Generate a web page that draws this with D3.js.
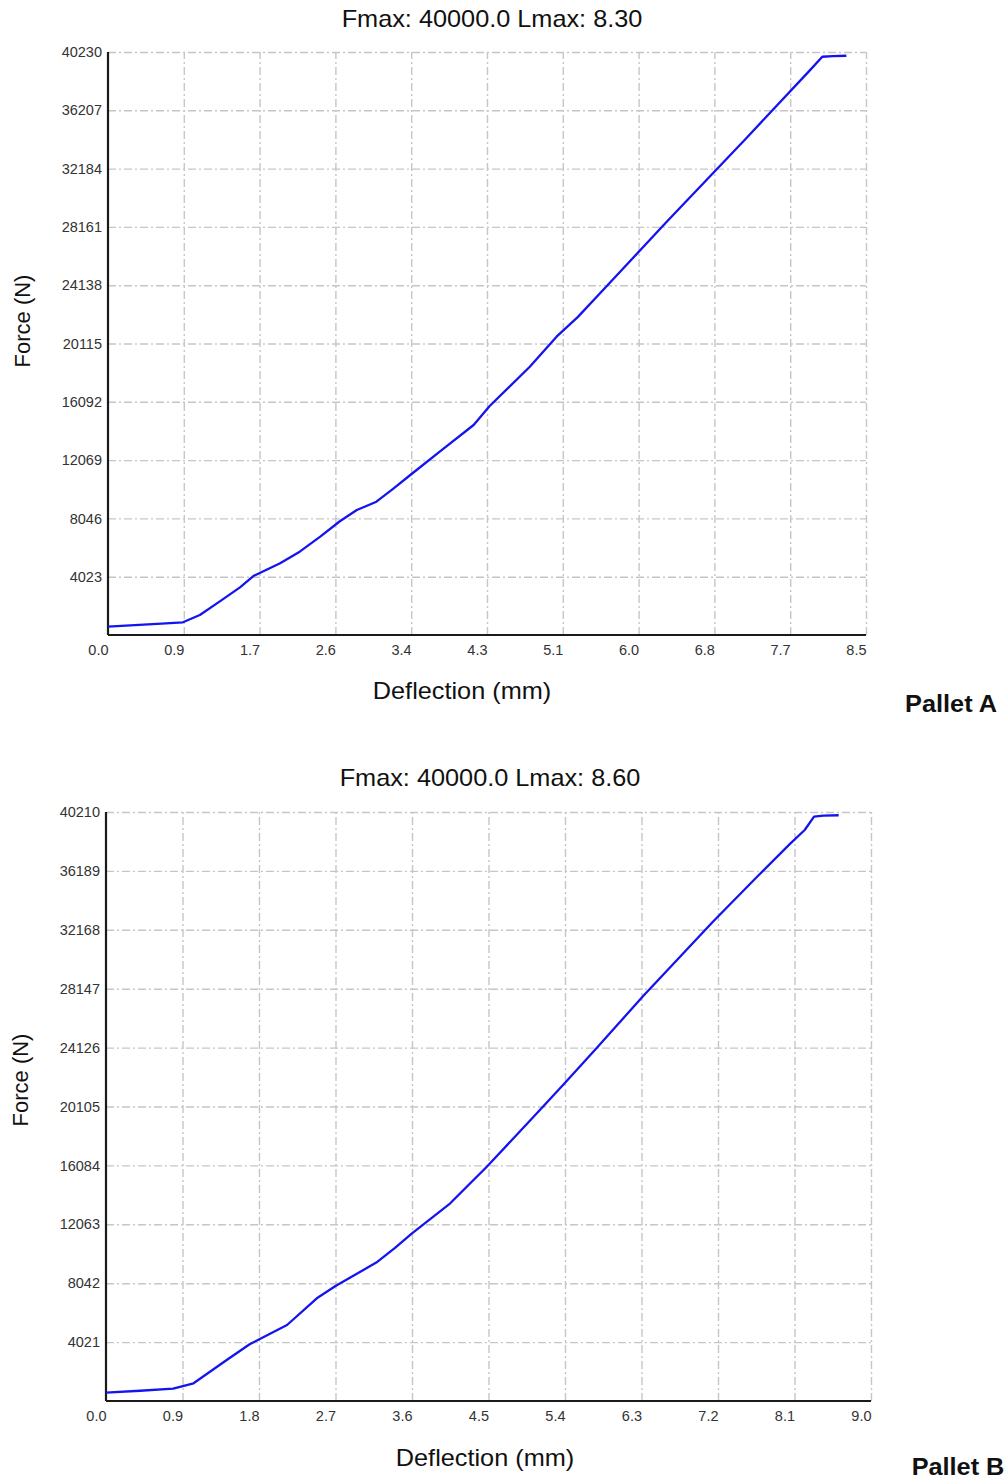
<!DOCTYPE html>
<html>
<head>
<meta charset="utf-8">
<script src="https://cdn.jsdelivr.net/npm/d3@7"></script>
<style>
  html, body { margin: 0; padding: 0; background: #ffffff; }
  svg { display: block; font-family: 'Liberation Sans', Arial, sans-serif; }
</style>
</head>
<body>
<div id="chart"></div>
<script>
// Pallet A: deflection (mm) vs force (N)
const deflA = [0, 0.3, 0.6, 0.84, 1.03, 1.25, 1.48, 1.63, 1.93, 2.15, 2.38, 2.6, 2.79, 3.01, 3.2, 3.39, 3.72, 4.1, 4.28, 4.73, 5.03, 5.27, 5.57, 6.26, 7.16, 7.87, 8.01, 8.13, 8.28];
const forceA = [573, 680, 780, 876, 1380, 2300, 3290, 4070, 4947, 5750, 6785, 7850, 8625, 9198, 10100, 11040, 12648, 14490, 15800, 18513, 20583, 21950, 23922, 28480, 34300, 38960, 39903, 39951, 39972];

// Pallet B
const deflB = [0, 0.4, 0.79, 1.03, 1.42, 1.69, 2.13, 2.48, 2.7, 3.18, 3.4, 3.6, 4.05, 4.48, 4.83, 5.14, 5.42, 5.77, 6.32, 7.14, 7.66, 8.05, 8.22, 8.33, 8.44, 8.62];
const forceB = [567, 700, 840, 1208, 2799, 3871, 5189, 7011, 7850, 9450, 10450, 11449, 13497, 15996, 18160, 20092, 21850, 24078, 27650, 32722, 35794, 38050, 38982, 39891, 39960, 39987];

// Axis ticks
const xMaxA = 8.5;
const xTickLabelsA = ['0.0', '0.9', '1.7', '2.6', '3.4', '4.3', '5.1', '6.0', '6.8', '7.7', '8.5'];
const yTicksA = [4023, 8046, 12069, 16092, 20115, 24138, 28161, 32184, 36207, 40230];

const xMaxB = 9.0;
const xTickLabelsB = ['0.0', '0.9', '1.8', '2.7', '3.6', '4.5', '5.4', '6.3', '7.2', '8.1', '9.0'];
const yTicksB = [4021, 8042, 12063, 16084, 20105, 24126, 28147, 32168, 36189, 40210];

const titleA = 'Fmax: 40000.0 Lmax: 8.30';
const titleB = 'Fmax: 40000.0 Lmax: 8.60';

(function () {
  'use strict';

  const svg = d3.select('#chart')
    .append('svg')
    .attr('width', 1008)
    .attr('height', 1481);

  svg.append('rect')
    .attr('width', 1008)
    .attr('height', 1481)
    .attr('fill', '#ffffff');

  const gridColor = '#c6c6c6';
  const stretch = 1.1; // reference text is slightly wide

  function wideText(parent, x, y, txt, size, weight) {
    parent.append('text')
      .attr('transform', `translate(${x},${y}) scale(${stretch},1)`)
      .attr('text-anchor', 'middle')
      .attr('font-size', size + 'px')
      .attr('font-weight', weight || 'normal')
      .attr('fill', '#111')
      .text(txt);
  }

  function drawPanel(opts) {
    const { left, right, top, bottom, xs, ys, xMax, xLabels, yTicks } = opts;

    const xScale = d3.scaleLinear().domain([0, xMax]).range([left, right]);
    const yScale = d3.scaleLinear().domain([0, yTicks[yTicks.length - 1]]).range([bottom, top]);
    const xTickVals = xLabels.map((_, i) => i * xMax / (xLabels.length - 1));

    // Grid (dash-dot)
    svg.append('g')
      .attr('transform', `translate(0,${bottom})`)
      .call(d3.axisBottom(xScale).tickValues(xTickVals.slice(1)).tickSize(-(bottom - top)).tickFormat(''))
      .call(g => g.select('.domain').remove())
      .call(g => g.selectAll('.tick line')
        .attr('stroke', gridColor)
        .attr('stroke-width', 1.4)
        .attr('stroke-dasharray', '8,3,2,3'));

    svg.append('g')
      .attr('transform', `translate(${left},0)`)
      .call(d3.axisLeft(yScale).tickValues(yTicks).tickSize(-(right - left)).tickFormat(''))
      .call(g => g.select('.domain').remove())
      .call(g => g.selectAll('.tick line')
        .attr('stroke', gridColor)
        .attr('stroke-width', 1.4)
        .attr('stroke-dasharray', '8,3,2,3'));

    // Axes
    svg.append('g')
      .attr('transform', `translate(0,${bottom})`)
      .call(d3.axisBottom(xScale).tickValues(xTickVals).tickSize(0).tickPadding(0)
        .tickFormat((d, i) => xLabels[i]))
      .call(g => g.select('.domain').attr('stroke', '#1a1a1a').attr('stroke-width', 2.2).attr('d', `M${left},0H${right}`))
      .call(g => g.selectAll('.tick text')
        .attr('y', 20)
        .attr('dy', null)
        .attr('fill', '#333')
        .attr('font-size', '14.5px')
        .attr('font-family', "'Liberation Sans', Arial, sans-serif")
        .style('text-anchor', 'end'));

    svg.append('g')
      .attr('transform', `translate(${left},0)`)
      .call(d3.axisLeft(yScale).tickValues(yTicks).tickSize(0).tickPadding(6).tickFormat(d3.format('d')))
      .call(g => g.select('.domain').attr('stroke', '#1a1a1a').attr('stroke-width', 2.2).attr('d', `M0,${top}V${bottom}`))
      .call(g => g.selectAll('.tick text')
        .attr('fill', '#333')
        .attr('font-size', '14.5px')
        .attr('font-family', "'Liberation Sans', Arial, sans-serif"));

    // Curve
    const line = d3.line()
      .x(d => xScale(d[0]))
      .y(d => yScale(d[1]));

    svg.append('path')
      .datum(xs.map((x, i) => [x, ys[i]]))
      .attr('fill', 'none')
      .attr('stroke', '#1414f0')
      .attr('stroke-width', 2.3)
      .attr('stroke-linejoin', 'round')
      .attr('d', line);
  }

  // Pallet A
  drawPanel({ left: 108, right: 866, top: 52, bottom: 635, xs: deflA, ys: forceA, xMax: xMaxA, xLabels: xTickLabelsA, yTicks: yTicksA });
  wideText(svg, 492, 27, titleA, 23);
  wideText(svg, 462, 699, 'Deflection (mm)', 23);
  wideText(svg, 951, 712, 'Pallet A', 23, 'bold');
  svg.append('text')
    .attr('transform', 'translate(30,321) rotate(-90)')
    .attr('text-anchor', 'middle')
    .attr('font-size', '22px')
    .attr('fill', '#111')
    .text('Force (N)');

  // Pallet B
  drawPanel({ left: 106, right: 871, top: 812, bottom: 1401, xs: deflB, ys: forceB, xMax: xMaxB, xLabels: xTickLabelsB, yTicks: yTicksB });
  wideText(svg, 490, 786, titleB, 23);
  wideText(svg, 485, 1466, 'Deflection (mm)', 23);
  wideText(svg, 958, 1475, 'Pallet B', 23, 'bold');
  svg.append('text')
    .attr('transform', 'translate(28,1080) rotate(-90)')
    .attr('text-anchor', 'middle')
    .attr('font-size', '22px')
    .attr('fill', '#111')
    .text('Force (N)');
})();
</script>
</body>
</html>
